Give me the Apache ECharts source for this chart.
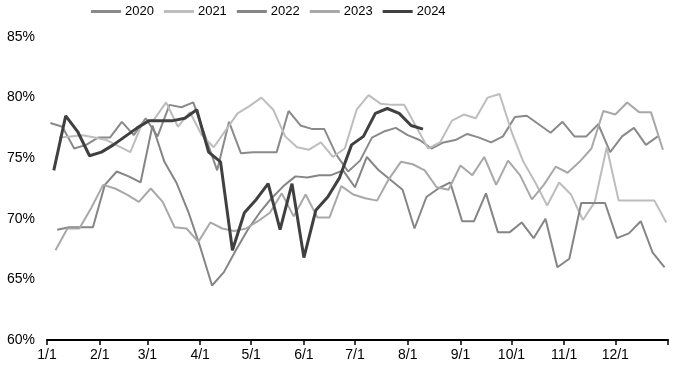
<!DOCTYPE html>
<html>
<head>
<meta charset="utf-8">
<script src="https://cdn.jsdelivr.net/npm/echarts@6/dist/echarts.min.js"></script>
<style>
html,body{margin:0;padding:0;background:#fff;}
#chart{width:678px;height:366px;}
</style>
</head>
<body>
<div id="chart"></div>
<script>
// Month tick labels and their day-of-year positions
const monthLabels = ['1/1','2/1','3/1','4/1','5/1','6/1','7/1','8/1','9/1','10/1','11/1','12/1'];
const monthDays = [0,31,59,90,120,151,181,212,243,273,304,334];

// Series names and first weekly observation day (day of year)
const years = ['2020','2021','2022','2023','2024'];
const firstDay = [2,7,6,5,4];
const colors = ['#8a8a8a','#bdbdbd','#858585','#a8a8a8','#404040'];

// Weekly values (%)
const v2020 = [77.9,77.6,75.8,76.1,76.7,76.7,78.0,76.9,78.3,76.8,79.4,79.2,79.6,76.8,74.0,78.0,75.4,75.5,75.5,75.5,
  78.9,77.7,77.4,77.4,75.3,73.9,74.8,76.7,77.2,77.5,76.9,76.5,75.8,76.3,76.5,77.0,76.7,76.3,76.8,78.4,
  78.5,77.8,77.1,78.0,76.8,76.8,77.8,75.5,76.8,77.5,76.1,76.8];
const v2021 = [76.7,76.8,76.9,76.7,76.5,76.0,75.5,77.9,78.2,79.6,77.6,78.8,76.9,75.9,77.3,78.7,79.3,80.0,79.0,76.8,
  75.9,75.7,76.3,75.1,75.8,79.0,80.2,79.5,79.4,79.4,77.6,75.8,76.3,78.1,78.6,78.3,80.0,80.3,77.2,74.7,
  73.0,71.1,73.0,72.0,69.9,71.4,75.9,71.5,71.5,71.5,71.5,69.7];
const v2022 = [69.1,69.3,69.3,69.3,72.8,73.9,73.5,73.0,77.7,74.7,73.0,70.6,67.7,64.5,65.6,67.4,69.1,70.5,71.7,72.7,
  73.5,73.4,73.6,73.6,74.0,72.6,75.1,74.0,73.2,72.4,69.2,71.8,72.5,73.0,69.8,69.8,72.1,68.9,68.9,69.7,
  68.4,70.0,66.0,66.7,71.3,71.3,71.3,68.4,68.8,69.8,67.2,66.0];
const v2023 = [67.4,69.2,69.2,70.9,72.8,72.5,72.0,71.4,72.5,71.4,69.3,69.2,68.1,69.7,69.2,69.0,69.2,69.8,70.5,72.1,
  70.2,72.0,70.1,70.1,72.7,72.0,71.7,71.5,73.3,74.7,74.5,74.0,72.6,72.4,74.4,73.6,75.1,72.8,74.8,73.6,
  71.6,72.8,74.3,73.8,74.7,75.8,78.9,78.6,79.6,78.8,78.8,75.7];
const v2024 = [74.0,78.5,77.2,75.2,75.5,76.1,76.8,77.5,78.1,78.1,78.1,78.3,79.0,75.5,74.7,67.4,70.5,71.6,72.9,69.1,
  72.9,66.8,70.7,71.8,73.4,76.1,76.8,78.7,79.1,78.7,77.7,77.4];
const allValues = [v2020,v2021,v2022,v2023,v2024];

// Y axis ticks
const yMin = 60, yMax = 85, yStep = 5;

const FONT = "'Liberation Sans',Arial,sans-serif";

const series = years.map((y,i) => ({
  name: y,
  type: 'line',
  symbol: 'none',
  smooth: false,
  z: i === 4 ? 10 : 2 + i,
  color: colors[i],
  lineStyle: { color: colors[i], width: i === 4 ? 3 : 2 },
  data: allValues[i].map((v,k) => [firstDay[i] + 7*k, v])
}));

const chart = echarts.init(document.getElementById('chart'), null, {renderer:'canvas'});
chart.setOption({
  animation: false,
  backgroundColor: '#fff',
  legend: {
    top: 5,
    left: 91,
    padding: 0,
    icon: 'rect',
    itemWidth: 30,
    itemHeight: 3,
    itemGap: 10,
    textStyle: { fontFamily: FONT, fontSize: 13, color: '#000', padding: [0,0,0,-1] },
    data: years
  },
  grid: { left: 47, right: 10, top: 37, bottom: 26 },
  xAxis: {
    type: 'value',
    min: 0,
    max: 365,
    axisLine: { show: true, lineStyle: { color: '#000', width: 2 } },
    axisTick: { show: true, length: 5, lineStyle: { color: '#000', width: 1.5 }, customValues: monthDays.concat([365]) },
    axisLabel: {
      customValues: monthDays,
      formatter: (val) => monthLabels[monthDays.indexOf(Math.round(val))] || '',
      fontFamily: FONT, fontSize: 14, color: '#000', margin: 8
    },
    splitLine: { show: false }
  },
  yAxis: {
    type: 'value',
    min: yMin, max: yMax, interval: yStep,
    axisLine: { show: false },
    axisTick: { show: false },
    splitLine: { show: false },
    axisLabel: { formatter: '{value}%', fontFamily: FONT, fontSize: 14, color: '#000', margin: 12 }
  },
  series: series
});
</script>
</body>
</html>
